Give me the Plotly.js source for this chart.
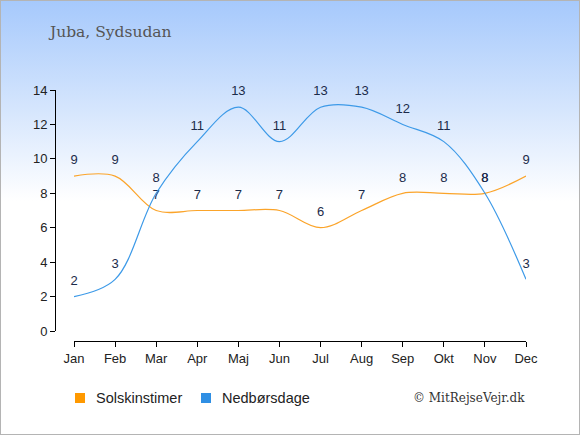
<!DOCTYPE html>
<html>
<head>
<meta charset="utf-8">
<script src="https://cdn.plot.ly/plotly-3.0.1.min.js"></script>
<style>
  html, body { margin: 0; padding: 0; }
  #bg { position: absolute; left: 0; top: 0; width: 580px; height: 435px; box-sizing: border-box;
        border: 1px solid #b4b4b4;
        background: linear-gradient(to bottom, #a6c9fc 0px, #d6e6fd 110px, #ffffff 200px, #ffffff 435px); }
  #chart { position: absolute; left: 0; top: 0; width: 580px; height: 435px; }
</style>
</head>
<body>
<div id="bg"></div>
<div id="chart"></div>
<script>
const months = ["Jan","Feb","Mar","Apr","Maj","Jun","Jul","Aug","Sep","Okt","Nov","Dec"];
const sunHours = [9, 9, 7, 7, 7, 7, 6, 7, 8, 8, 8, 9];
const rainDays = [2, 3, 8, 11, 13, 11, 13, 13, 12, 11, 8, 3];
const yTicks = [0, 2, 4, 6, 8, 10, 12, 14];
const seriesNames = ["Solskinstimer", "Nedbørsdage"];

const idx = months.map((m, i) => i);
const orange = "#fba42a";
const blue = "#3d9ae8";
const labelFont = { family: "Liberation Sans, Arial, sans-serif", size: 13, color: "#1c2b4a" };

function series(vals, color) {
  return { x: idx, y: vals, mode: "lines+markers+text", text: vals.map(String), textposition: "top center",
    textfont: labelFont, line: { color: color, width: 1.2, shape: "spline", smoothing: 1 },
    marker: { size: 12, color: "rgba(0,0,0,0)" },
    showlegend: false, hoverinfo: "none", cliponaxis: false };
}

const traces = [series(sunHours, orange), series(rainDays, blue)];

// paper coords helpers (plot area: x 55..526, y 90..341)
const L = 55, W = 471, T = 90, H = 251;
const px = v => (v - L) / W;
const py = v => (T + H - v) / H;

const legendItems = [
  { name: seriesNames[0], color: "#ff9900", sx: 80, tx: 94 },
  { name: seriesNames[1], color: "#2f8fe4", sx: 206, tx: 220 }
];
const shapes = legendItems.map(it => ({
  type: "rect", xref: "paper", yref: "paper",
  x0: px(it.sx - 5), x1: px(it.sx + 5), y0: py(403), y1: py(393),
  line: { width: 0 }, fillcolor: it.color
}));
const annotations = legendItems.map(it => ({
  text: it.name, xref: "paper", yref: "paper", x: px(it.tx), y: py(398),
  xanchor: "left", yanchor: "middle", showarrow: false,
  font: { family: "Liberation Sans, Arial, sans-serif", size: 14.5, color: "#222" }
}));
annotations.push({ text: "© MitRejseVejr.dk", xref: "paper", yref: "paper", x: px(527), y: py(398),
  xanchor: "right", yanchor: "middle", showarrow: false,
  font: { family: "DejaVu Serif, Georgia, serif", size: 12, color: "#333" } });

const layout = {
  width: 580, height: 435,
  paper_bgcolor: "rgba(0,0,0,0)", plot_bgcolor: "rgba(0,0,0,0)",
  margin: { l: 55, r: 54, t: 90, b: 94 },
  font: { family: "Liberation Sans, Arial, sans-serif", size: 13, color: "#222" },
  title: { text: "Juba, Sydsudan", x: 50 / 580, xanchor: "left", y: 1 - 32 / 435, yanchor: "middle",
           font: { family: "DejaVu Serif, Georgia, serif", size: 15.5, color: "#555" } },
  xaxis: {
    domain: [19 / 471, 1], range: [0, 11], anchor: "free", position: 0,
    tickmode: "array", tickvals: idx, ticktext: months,
    showline: true, linecolor: "#000", linewidth: 1, ticks: "outside", ticklen: 5, tickcolor: "#000",
    showgrid: false, zeroline: false, fixedrange: true,
    tickfont: { size: 13, color: "#222" }
  },
  yaxis: {
    domain: [10 / 251, 1], range: [0, 14], anchor: "free", position: 0,
    tickmode: "array", tickvals: yTicks, ticktext: yTicks.map(String),
    showline: true, linecolor: "#000", linewidth: 1, ticks: "outside", ticklen: 5, tickcolor: "#000",
    showgrid: false, zeroline: false, fixedrange: true,
    tickfont: { size: 13, color: "#222" }
  },
  showlegend: false,
  shapes: shapes,
  annotations: annotations
};

Plotly.newPlot("chart", traces, layout, { displayModeBar: false, staticPlot: true });
</script>
</body>
</html>
